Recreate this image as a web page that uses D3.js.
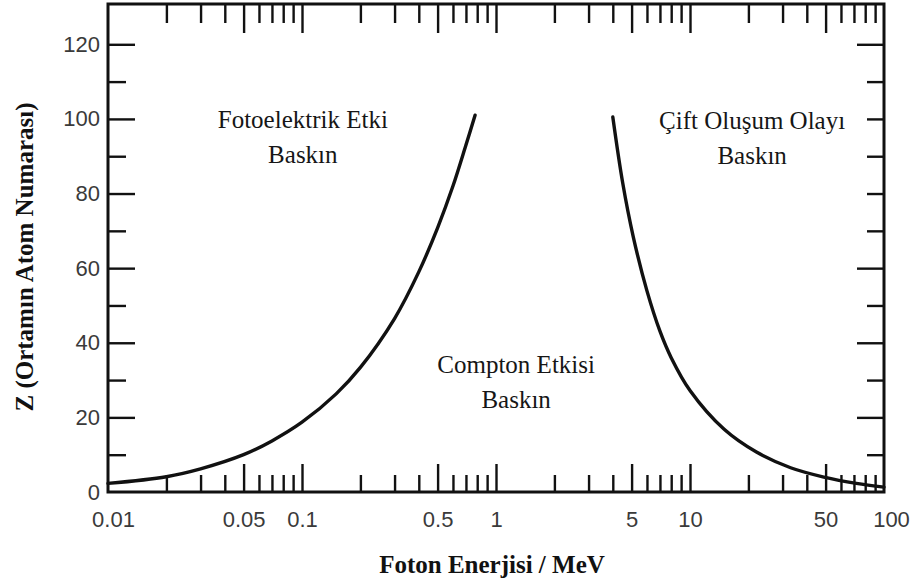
<!DOCTYPE html>
<html>
<head>
<meta charset="utf-8">
<script src="https://cdn.jsdelivr.net/npm/d3@7"></script>
<style>
  html, body { margin: 0; padding: 0; background: #fff; }
  svg { display: block; }
  .tick text { font-family: "Liberation Sans", Arial, sans-serif; }
</style>
</head>
<body>
<svg id="chart" width="918" height="586"></svg>
<script>
// Boundary between photoelectric and Compton regions (energy in MeV, Z)
const photoCompE = [0.01, 0.02, 0.03, 0.05, 0.07, 0.1, 0.15, 0.2, 0.3, 0.4, 0.5, 0.6, 0.7, 0.78];
const photoCompZ = [2.3, 4.1, 6.2, 10.0, 13.7, 18.7, 26.3, 33.4, 46.5, 59, 70.8, 82, 93, 101];

// Boundary between Compton and pair-production regions
const pairCompE = [4.0, 4.5, 5.1, 6.0, 7.0, 8.0, 10, 15, 22, 33, 49, 72, 100];
const pairCompZ = [100.5, 82.8, 68.4, 53.9, 43.1, 36, 27.2, 16.8, 10.7, 6.5, 4.0, 2.3, 1.3];

// Axis ticks
const xLabelTicks = [0.01, 0.05, 0.1, 0.5, 1, 5, 10, 50, 100];
const xLabelText = ["0.01", "0.05", "0.1", "0.5", "1", "5", "10", "50", "100"];
const xMajorTicks = [0.05, 0.1, 0.5, 1, 5, 10, 50];
const xMinorTicks = [0.02, 0.03, 0.04, 0.06, 0.07, 0.08, 0.09,
                     0.2, 0.3, 0.4, 0.6, 0.7, 0.8, 0.9,
                     2, 3, 4, 6, 7, 8, 9,
                     20, 30, 40, 60, 70, 80, 90];
const yLabelTicks = [0, 20, 40, 60, 80, 100, 120];
const yMajorTicks = [20, 40, 60, 80, 100, 120];
const yMinorTicks = [10, 30, 50, 70, 90, 110];
const yRightLong = [20, 40, 60, 120];
const yRightShort = [10, 30, 50, 70, 80, 90, 100, 110];

// Region labels (anchored at the centre of the first line)
const regionLabels = [
  { lines: ["Fotoelektrik Etki", "Baskın"], e: 0.101, z: 97.5 },
  { lines: ["Compton Etkisi", "Baskın"], e: 1.27, z: 31.8 },
  { lines: ["Çift Oluşum Olayı", "Baskın"], e: 20.9, z: 97.2 }
];

const xTitle = "Foton Enerjisi / MeV";
const yTitle = "Z (Ortamın Atom Numarası)";

const svg = d3.select("#chart");
const L = 108, R = 884, T = 4, B = 492;

const x = d3.scaleLog().domain([0.01, 100]).range([L, R]);
const y = d3.scaleLinear().domain([0, 130.8]).range([B, T]);

const ink = "#111";

function styleAxis(g) {
  g.select(".domain").remove();
  g.selectAll(".tick line").attr("stroke", ink).attr("stroke-width", 2.4);
}

// Bottom ticks (pointing into the plot)
svg.append("g").attr("transform", `translate(0,${B})`)
  .call(d3.axisBottom(x).tickValues(xMinorTicks).tickSize(-17).tickFormat(""))
  .call(styleAxis);
svg.append("g").attr("transform", `translate(0,${B})`)
  .call(d3.axisBottom(x).tickValues(xMajorTicks).tickSize(-28).tickFormat(""))
  .call(styleAxis);
// Top ticks
svg.append("g").attr("transform", `translate(0,${T})`)
  .call(d3.axisTop(x).tickValues(xMinorTicks).tickSize(-19).tickFormat(""))
  .call(styleAxis);
svg.append("g").attr("transform", `translate(0,${T})`)
  .call(d3.axisTop(x).tickValues(xMajorTicks).tickSize(-29).tickFormat(""))
  .call(styleAxis);
// Left ticks
svg.append("g").attr("transform", `translate(${L},0)`)
  .call(d3.axisLeft(y).tickValues(yMinorTicks).tickSize(-18).tickFormat(""))
  .call(styleAxis);
svg.append("g").attr("transform", `translate(${L},0)`)
  .call(d3.axisLeft(y).tickValues(yMajorTicks).tickSize(-27).tickFormat(""))
  .call(styleAxis);
// Right ticks
svg.append("g").attr("transform", `translate(${R},0)`)
  .call(d3.axisRight(y).tickValues(yRightShort).tickSize(-17).tickFormat(""))
  .call(styleAxis);
svg.append("g").attr("transform", `translate(${R},0)`)
  .call(d3.axisRight(y).tickValues(yRightLong).tickSize(-27).tickFormat(""))
  .call(styleAxis);

// Tick labels
const xl = svg.append("g").attr("transform", `translate(0,${B})`)
  .call(d3.axisBottom(x).tickValues(xLabelTicks).tickSize(0).tickPadding(19)
    .tickFormat((d, i) => xLabelText[i]));
xl.select(".domain").remove();
xl.selectAll(".tick text").attr("font-size", 22).attr("fill", "#3a3a3a")
  .attr("dx", d => d === 0.01 ? 5 : d === 100 ? 7 : 0);

const yl = svg.append("g").attr("transform", `translate(${L},0)`)
  .call(d3.axisLeft(y).tickValues(yLabelTicks).tickSize(0).tickPadding(8));
yl.select(".domain").remove();
yl.selectAll(".tick text").attr("font-size", 22).attr("fill", "#3a3a3a");

// Boundary curves
const line = d3.line().x(d => x(d[0])).y(d => y(d[1])).curve(d3.curveCatmullRom.alpha(0.5));
const curveStyle = p => p.attr("fill", "none").attr("stroke", ink)
  .attr("stroke-width", 3.4).attr("stroke-linecap", "round");

svg.append("path").datum(photoCompE.map((e, i) => [e, photoCompZ[i]]))
  .attr("d", line).call(curveStyle);
svg.append("path").datum(pairCompE.map((e, i) => [e, pairCompZ[i]]))
  .attr("d", line).call(curveStyle);

// Frame
svg.append("rect").attr("x", L).attr("y", T).attr("width", R - L).attr("height", B - T)
  .attr("fill", "none").attr("stroke", ink).attr("stroke-width", 3);

// Region labels
regionLabels.forEach(r => {
  const t = svg.append("text")
    .attr("x", x(r.e)).attr("y", y(r.z))
    .attr("text-anchor", "middle")
    .attr("font-family", "'Liberation Serif', 'Times New Roman', serif")
    .attr("font-size", 25).attr("fill", "#161616");
  r.lines.forEach((s, i) => {
    t.append("tspan").attr("x", x(r.e)).attr("dy", i === 0 ? 0 : 35).text(s);
  });
});

// Axis titles
svg.append("text")
  .attr("x", 492).attr("y", 573)
  .attr("text-anchor", "middle")
  .attr("font-family", "'Liberation Serif', 'Times New Roman', serif")
  .attr("font-weight", "bold").attr("font-size", 25).attr("fill", "#111")
  .text(xTitle);

svg.append("text")
  .attr("transform", "translate(33,257) rotate(-90)")
  .attr("text-anchor", "middle")
  .attr("font-family", "'Liberation Serif', 'Times New Roman', serif")
  .attr("font-weight", "bold").attr("font-size", 25).attr("fill", "#111")
  .text(yTitle);
</script>
</body>
</html>
